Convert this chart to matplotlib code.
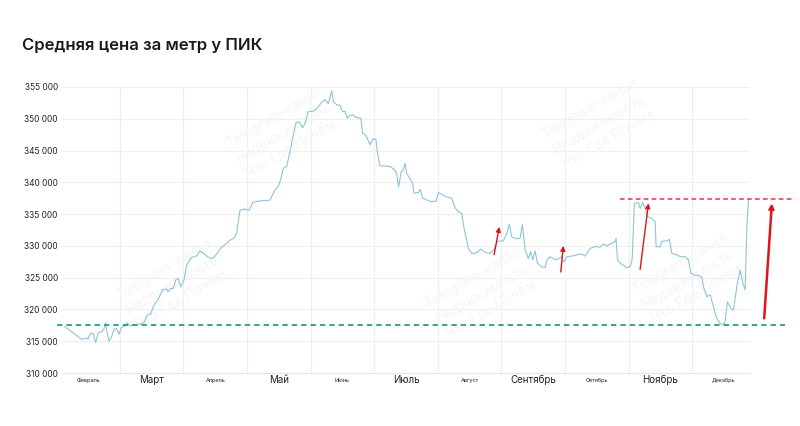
import matplotlib
matplotlib.use("Agg")
import matplotlib.pyplot as plt
import matplotlib.transforms as mtransforms

plt.rcParams['font.family'] = ['Inter', 'DejaVu Sans']

# time axis in months since 1 Feb (0 = start of Feb, 1 = start of Mar, ...)
t = [0.135, 0.266, 0.398, 0.477, 0.500, 0.540, 0.580, 0.618, 0.659, 0.713,
     0.749, 0.776, 0.791, 0.828, 0.870, 0.906, 0.949, 0.985, 1.027, 1.079,
     1.115, 1.158, 1.237, 1.315, 1.378, 1.430, 1.484, 1.536, 1.603, 1.672,
     1.735, 1.761, 1.798, 1.839, 1.882, 1.918, 1.956, 2.008, 2.050, 2.129,
     2.207, 2.259, 2.311, 2.390, 2.459, 2.522, 2.601, 2.679, 2.731, 2.794,
     2.837, 2.889, 2.967, 3.035, 3.088, 3.151, 3.230, 3.361, 3.439, 3.491,
     3.529, 3.570, 3.623, 3.675, 3.727, 3.770, 3.822, 3.875, 3.911, 3.963,
     4.042, 4.105, 4.174, 4.226, 4.278, 4.331, 4.357, 4.410, 4.462, 4.504,
     4.541, 4.577, 4.619, 4.671, 4.714, 4.788, 4.819, 4.871, 4.934, 4.986,
     5.028, 5.049, 5.091, 5.249, 5.327, 5.354, 5.385, 5.422, 5.453, 5.485,
     5.511, 5.563, 5.606, 5.626, 5.694, 5.721, 5.763, 5.878, 5.972, 6.009,
     6.062, 6.141, 6.219, 6.271, 6.323, 6.377, 6.413, 6.481, 6.534, 6.613,
     6.676, 6.743, 6.822, 6.885, 6.937, 7.031, 7.085, 7.125, 7.163, 7.242,
     7.294, 7.330, 7.373, 7.425, 7.462, 7.494, 7.530, 7.566, 7.635, 7.687,
     7.719, 7.766, 7.818, 7.871, 7.950, 7.986, 8.029, 8.107, 8.186, 8.265,
     8.316, 8.395, 8.474, 8.553, 8.605, 8.658, 8.737, 8.789, 8.804, 8.825,
     8.894, 8.962, 9.025, 9.056, 9.092, 9.155, 9.182, 9.224, 9.261, 9.297,
     9.366, 9.418, 9.434, 9.497, 9.523, 9.602, 9.643, 9.681, 9.759, 9.811,
     9.890, 9.942, 9.980, 10.047, 10.110, 10.153, 10.178, 10.231, 10.283, 10.326,
     10.362, 10.398, 10.441, 10.483, 10.519, 10.555, 10.609, 10.650, 10.703, 10.755,
     10.798, 10.834, 10.861, 10.886]

price = [317300, 316300, 315300, 315500, 315300, 316300, 316200, 314800, 316300, 316500,
         316900, 317900, 316800, 315000, 315700, 316900, 317000, 316100, 317200, 317400,
         317900, 317400, 317600, 317700, 317900, 319100, 319300, 320700, 321600, 323100,
         323200, 322800, 323300, 323300, 324700, 324900, 323500, 324600, 327000, 328200,
         328400, 329200, 328900, 328200, 328000, 328700, 329800, 330400, 330900, 331200,
         332000, 335600, 335800, 335600, 336800, 337000, 337100, 337200, 338800, 339400,
         340400, 342200, 342500, 344800, 347400, 349400, 349500, 348600, 349300, 351100,
         351200, 351700, 352600, 353000, 352400, 354400, 352700, 352200, 352100, 351100,
         351200, 350100, 350500, 350600, 350200, 350100, 347700, 347400, 345900, 346900,
         346700, 344800, 342600, 342500, 341900, 341300, 339300, 341600, 341900, 343000,
         341400, 340600, 339800, 338300, 338400, 338900, 337500, 337000, 337000, 338400,
         338100, 337700, 337500, 336000, 335400, 335100, 332800, 329600, 328800, 328900,
         329500, 329000, 328800, 329400, 330700, 330800, 332000, 333400, 331400, 331100,
         331200, 333400, 329400, 328000, 329100, 327800, 329200, 327300, 326700, 326600,
         327800, 328300, 328000, 327800, 328300, 327500, 328300, 328400, 328600, 328700,
         328400, 329600, 329900, 329800, 330300, 330000, 330400, 330700, 331200, 327800,
         327100, 326600, 326700, 327800, 336700, 336800, 335900, 336800, 335900, 334600,
         334300, 333800, 329900, 329800, 330700, 330800, 331000, 328800, 328600, 328300,
         328300, 327800, 325700, 325400, 325300, 325100, 323600, 322000, 322300, 320700,
         319400, 318400, 317800, 317600, 318100, 321200, 320200, 319900, 323600, 326200,
         324100, 323100, 333000, 337300]

months = ["Февраль", "Март", "Апрель", "Май", "Июнь", "Июль",
          "Август", "Сентябрь", "Октябрь", "Ноябрь", "Декабрь"]
month_pos = [m + 0.5 for m in range(len(months))]
big_months = ["Март", "Май", "Июль", "Сентябрь", "Ноябрь"]

y_ticks = list(range(310000, 355001, 5000))

support_level = 317550
resist_level = 337300
resist_span = (8.87, 11.62)
support_span = (0.01, 11.46)

# red arrows: (x_from, y_from, x_to, y_to, width)
arrows = [
    (6.885, 328600, 6.968, 333000, 1.0),
    (7.934, 325900, 7.975, 330000, 1.0),
    (9.182, 326300, 9.313, 336700, 1.0),
    (11.133, 318600, 11.254, 336700, 1.8),
]

watermark = "Telegram-канал\nНедвижимость\nЧто Где Почём"
wm_pos = [(0.32, 0.84), (0.16, 0.31), (0.61, 0.28), (0.78, 0.87), (0.91, 0.33)]

fig = plt.figure(figsize=(8, 4.26), dpi=100)
ax = fig.add_axes([0.0775, 0.1244, 0.86, 0.6714])

ax.set_xlim(0.09, 10.91)
ax.set_ylim(310000, 355000)

for v in y_ticks:
    ax.axhline(v, color="#eeeeee", lw=0.8, zorder=0)
for m in range(1, 11):
    ax.axvline(m, color="#eeeeee", lw=0.8, zorder=0)

for (x, y) in wm_pos:
    ax.text(x, y, watermark, transform=ax.transAxes, ha="center", va="center",
            rotation=30, fontsize=10, color="#f5f5f5", linespacing=1.3, zorder=0.5)

ax.plot(t, price, color="#8cc5d8", lw=0.8, zorder=2)

ax.plot(support_span, [support_level] * 2, color="#23a173", lw=1.3,
        ls=(0, (3, 2.2)), clip_on=False, zorder=3)
ax.plot(resist_span, [resist_level] * 2, color="#e8363a", lw=1.1,
        ls=(0, (3, 2.2)), clip_on=False, zorder=3)

for (x0, y0, x1, y1, w) in arrows:
    ax.annotate("", xy=(x1, y1), xytext=(x0, y0),
                arrowprops=dict(arrowstyle="-|>", color="#e0141b", lw=w,
                                mutation_scale=7, shrinkA=0, shrinkB=0),
                annotation_clip=False, zorder=4)

ax.set_yticks(y_ticks)
ax.set_yticklabels([f"{v:,}".replace(",", " ") for v in y_ticks], fontsize=6, color="#222222")
ax.tick_params(axis="y", length=0, pad=3)
ax.set_xticks([])

trans = mtransforms.blended_transform_factory(ax.transData, ax.transAxes)
for pos, name in zip(month_pos, months):
    size = 7 if name in big_months else 4
    ax.text(pos, -0.025, name, transform=trans, ha="center", va="center",
            fontsize=size, color="#222222")

for s in ["top", "right", "left"]:
    ax.spines[s].set_visible(False)
ax.spines["bottom"].set_color("#e4e4e4")
ax.spines["bottom"].set_linewidth(0.8)

fig.text(0.0275, 0.894, "Средняя цена за метр у ПИК", fontsize=12,
         fontweight="semibold", color="#1a1a1a", ha="left", va="center")

fig.savefig("out.png", dpi=100, facecolor="white")
